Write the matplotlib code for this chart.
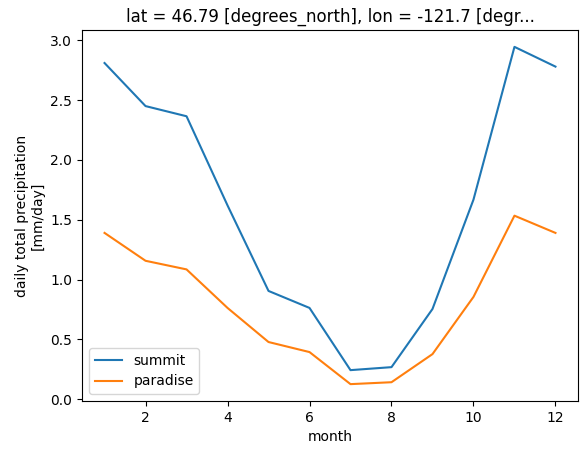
import matplotlib
matplotlib.use("Agg")
import matplotlib.pyplot as plt

months = [1, 2, 3, 4, 5, 6, 7, 8, 9, 10, 11, 12]
summit = [2.81, 2.45, 2.365, 1.62, 0.905, 0.763, 0.243, 0.268, 0.754, 1.668, 2.945, 2.78]
paradise = [1.39, 1.157, 1.085, 0.763, 0.478, 0.394, 0.126, 0.142, 0.377, 0.855, 1.534, 1.39]

fig = plt.figure(figsize=(5.87, 4.54), dpi=100)
ax = fig.add_axes([82/587, 1-401/454, 496/587, 371/454])
ax.plot(months, summit, label="summit")
ax.plot(months, paradise, label="paradise")
ax.set_xlabel("month")
ax.set_ylabel("daily total precipitation\n[mm/day]")
ax.set_title("lat = 46.79 [degrees_north], lon = -121.7 [degr...")
ax.legend(loc="lower left")
fig.savefig("out.png", dpi=100)
